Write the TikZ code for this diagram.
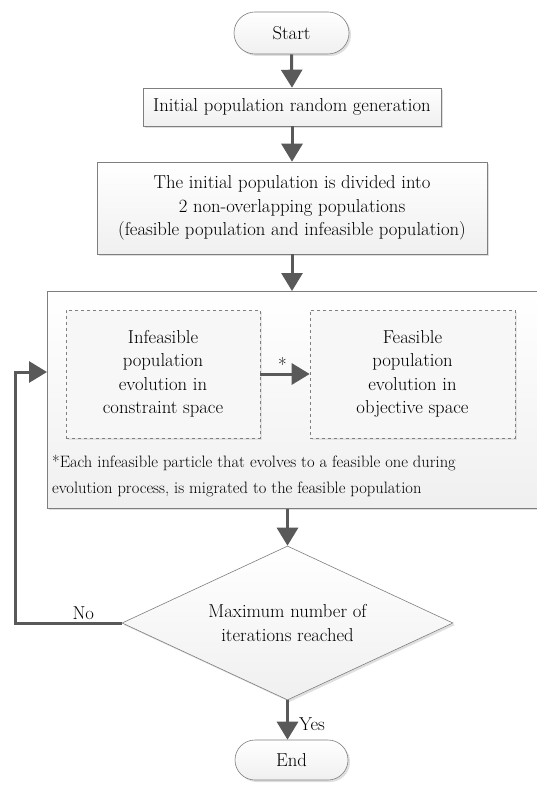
\documentclass[tikz,border=0pt]{standalone}
\usepackage{fontspec}
\usetikzlibrary{arrows.meta,shapes.geometric,shapes.misc,shadows}
\definecolor{linkgray}{HTML}{595959}
\definecolor{edgegray}{HTML}{7F7F7F}
\tikzset{
  x=1pt, y=-1pt,
  mainfont/.style={font=\fontsize{18.7}{23.5}\selectfont},
  flowbox/.style={draw=edgegray, line width=0.6pt, top color=white, bottom color=gray!12,
    drop shadow={shadow xshift=2pt, shadow yshift=-2pt, opacity=0.25},
    mainfont, align=center, inner sep=0pt},
  terminal/.style={flowbox, rounded rectangle},
  subbox/.style={draw=edgegray, dashed, line width=0.6pt, fill=gray!6,
    drop shadow={shadow xshift=2pt, shadow yshift=-2pt, opacity=0.15},
    mainfont, align=center, inner sep=0pt},
  link/.style={draw=linkgray, line width=3pt, -{Triangle[length=18pt,width=21pt]}},
  lbl/.style={mainfont, inner sep=1pt}
}
\begin{document}
\begin{tikzpicture}
\useasboundingbox (0,0) rectangle (537,786);
\fill[white] (0,0) rectangle (537,786);

% main flow
\node[terminal, minimum width=115pt, minimum height=42pt] (start) at (291.5,33) {Start};
\node[flowbox, minimum width=298pt, minimum height=38pt] (init) at (292,107) {Initial population random generation};
\node[flowbox, minimum width=390pt, minimum height=92pt] (divide) at (292,208)
  {The initial population is divided into\\2 non-overlapping populations\\(feasible population and infeasible population)};

% evolution block (runs past the right edge)
\node[flowbox, minimum width=500pt, minimum height=217pt, anchor=north west] (evo) at (47,291) {};
\node[subbox, minimum width=194pt, minimum height=128pt] (infeas) at (163,374)
  {Infeasible\\population\\evolution in\\constraint space};
\node[subbox, minimum width=205pt, minimum height=128pt] (feas) at (412.5,374)
  {Feasible\\population\\evolution in\\objective space};
\node[anchor=west, align=left, inner sep=0pt, font=\fontsize{16.5}{26}\selectfont] (note) at (52,476)
  {*Each infeasible particle that evolves to a feasible one during\\evolution process, is migrated to the feasible population};

% decision
\node[draw=edgegray, line width=0.6pt, diamond, aspect=2.15, minimum width=331pt, minimum height=154pt,
  top color=white, bottom color=gray!12, inner sep=0pt,
  drop shadow={shadow xshift=2pt, shadow yshift=-2pt, opacity=0.25},
  mainfont, align=center] (check) at (287.5,623) {Maximum number of\\iterations reached};
\node[terminal, minimum width=113pt, minimum height=40pt] (end) at (291.5,760) {End};

% connectors
\draw[link] (start.south) -- (init.north);
\draw[link] (init.south) -- (divide.north);
\draw[link] (divide.south) -- (divide.south |- evo.north);
\draw[link] (infeas.east) -- node[lbl, above, pos=0.45] {*} (feas.west);
\draw[link] (check.north |- evo.south) -- (check.north);
\coordinate (loopcorner) at (15,623);
\coordinate (looptop) at (15,372);
\draw[link] (check.west) -- node[lbl, above, pos=0.36, yshift=1pt] {No} (loopcorner) -- (looptop) -- (47,372);
\draw[link] (check.south) -- node[lbl, right, pos=0.6, xshift=9pt] {Yes} (check.south |- end.north);
\end{tikzpicture}
\end{document}
